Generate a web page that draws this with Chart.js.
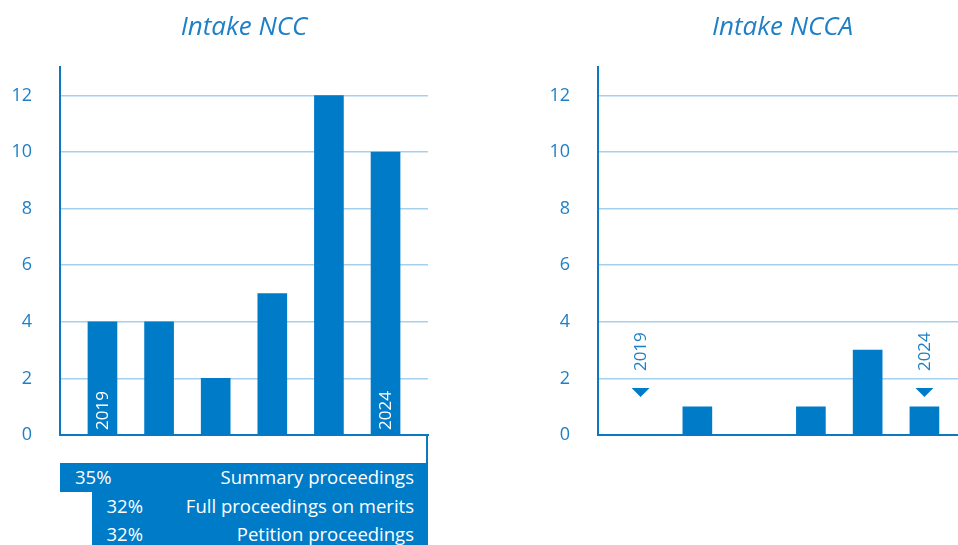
<!DOCTYPE html>
<html>
<head>
<meta charset="utf-8">
<script src="https://cdn.jsdelivr.net/npm/chart.js@4.4.1/dist/chart.umd.min.js"></script>
<style>
  html, body { margin:0; padding:0; width:958px; height:545px; overflow:hidden; background:#fff; }
  canvas { position:absolute; top:0; }
  #c1 { left:0; }
  #c2 { left:520px; }
  .gap { position:absolute; left:60px; top:435px; width:366px; height:28px; border-right:2px solid #0a78c2; }
  .row { position:absolute; height:28.5px; background:#007bc7; color:#fff; font-family:"Open Sans", sans-serif; font-size:18.5px; line-height:28.5px; box-sizing:border-box; }
  .row .pct { position:absolute; left:15px; top:0; }
  .row .lbl { position:absolute; right:14px; top:0; }
</style>
</head>
<body>
<canvas id="c1" width="470" height="545"></canvas>
<canvas id="c2" width="447" height="545"></canvas>
<div class="gap"></div>
<div id="table"></div>
<script>
// ---- data ----
const years = [2019, 2020, 2021, 2022, 2023, 2024];
const nccIntake = [4, 4, 2, 5, 12, 10];
const nccaIntake = [0, 1, 0, 1, 3, 1];
const yTickValues = [0, 2, 4, 6, 8, 10, 12];
const labeledYears = [2019, 2024];
const proceedingTypes = ['Summary proceedings', 'Full proceedings on merits', 'Petition proceedings'];
const proceedingShares = [35, 32, 32];

// ---- styles ----
const BLUE = '#007bc7';
const AXIS = '#0a78c2';
const GRID = '#a6d1ee';
const TEXT = '#1f80c6';
const FONT = '"Open Sans", sans-serif';

const yearLabelPlugin = {
  id: 'yearLabels',
  afterDatasetsDraw(chart, args, opts) {
    const ctx = chart.ctx;
    const xs = chart.scales.x, ys = chart.scales.y;
    ctx.save();
    ctx.font = '17px ' + FONT;
    labeledYears.forEach(yr => {
      const i = years.indexOf(yr);
      const x = xs.getPixelForValue(i);
      if (opts.mode === 'inside') {
        const y0 = ys.getPixelForValue(0) - 5;
        ctx.save();
        ctx.translate(x, y0);
        ctx.rotate(-Math.PI / 2);
        ctx.fillStyle = '#fff';
        ctx.textAlign = 'left';
        ctx.textBaseline = 'middle';
        ctx.fillText(String(yr), 0, 1);
        ctx.restore();
      } else {
        const apex = ys.getPixelForValue(opts.markerValue);
        ctx.fillStyle = BLUE;
        ctx.beginPath();
        ctx.moveTo(x - 9, apex - 9);
        ctx.lineTo(x + 9, apex - 9);
        ctx.lineTo(x, apex);
        ctx.closePath();
        ctx.fill();
        ctx.save();
        ctx.translate(x, apex - 26);
        ctx.rotate(-Math.PI / 2);
        ctx.fillStyle = TEXT;
        ctx.textAlign = 'left';
        ctx.textBaseline = 'middle';
        ctx.fillText(String(yr), 0, 1);
        ctx.restore();
      }
    });
    ctx.restore();
  }
};

function makeChart(id, title, values, yAxisWidth, rightPad, labelOpts) {
  return new Chart(document.getElementById(id), {
    type: 'bar',
    data: {
      datasets: [{
        data: values.map((v, i) => ({ x: i, y: v })),
        backgroundColor: BLUE,
        borderWidth: 0,
        barThickness: 29
      }]
    },
    options: {
      responsive: false,
      animation: false,
      devicePixelRatio: 1,
      layout: { padding: { left: 0, right: rightPad, top: 0, bottom: 0 } },
      plugins: {
        legend: { display: false },
        tooltip: { enabled: false },
        title: {
          display: true,
          text: title,
          fullSize: false,
          color: TEXT,
          font: { family: FONT, size: 26, style: 'italic', weight: 'normal', lineHeight: 1.2 },
          padding: { top: 12, bottom: 24 }
        },
        yearLabels: labelOpts
      },
      scales: {
        x: {
          type: 'linear',
          offset: false,
          min: -0.75,
          max: 5.75,
          ticks: { display: false },
          grid: { display: false },
          border: { display: true, color: AXIS, width: 2 },
          afterFit(s) { s.height = 110; }
        },
        y: {
          min: 0,
          max: 13,
          afterBuildTicks(s) { s.ticks = yTickValues.map(v => ({ value: v })); },
          ticks: { color: TEXT, padding: 28, font: { family: FONT, size: 18 } },
          grid: { color: GRID, lineWidth: 1.5, drawTicks: false },
          border: { display: true, color: AXIS, width: 2 },
          afterFit(s) { s.width = yAxisWidth; }
        }
      }
    },
    plugins: [yearLabelPlugin]
  });
}

makeChart('c1', 'Intake NCC', nccIntake, 60, 42, { mode: 'inside' });
makeChart('c2', 'Intake NCCA', nccaIntake, 78, 0, { mode: 'marker', markerValue: 1.34 });

// proceedings table (bars proportional to share)
const tbl = document.getElementById('table');
const maxShare = Math.max(...proceedingShares);
const fullWidth = 368, rightEdge = 428, top0 = 463, rowH = 28.5;
proceedingTypes.forEach((name, i) => {
  const w = proceedingShares[i] / maxShare * fullWidth;
  const d = document.createElement('div');
  d.className = 'row';
  d.style.left = (rightEdge - w) + 'px';
  d.style.width = w + 'px';
  d.style.top = (top0 + i * rowH) + 'px';
  d.innerHTML = '<span class="pct">' + proceedingShares[i] + '%</span><span class="lbl">' + name + '</span>';
  tbl.appendChild(d);
});
</script>
</body>
</html>
